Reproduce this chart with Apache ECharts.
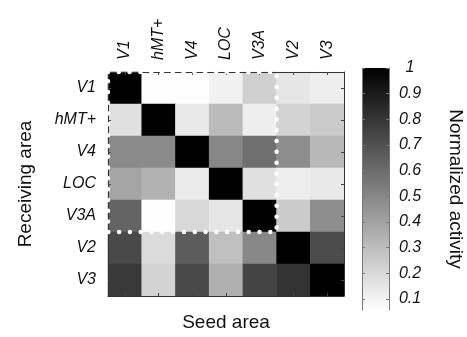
<!DOCTYPE html>
<html>
<head>
<meta charset="utf-8">
<script src="https://cdn.jsdelivr.net/npm/echarts@6/dist/echarts.min.js"></script>
<style>
  html, body { margin: 0; padding: 0; background: #fff; }
  #chart { width: 467px; height: 337px; }
</style>
</head>
<body>
<div id="chart"></div>
<script>
// ---- data ----
const seedAreas = ['V1', 'hMT+', 'V4', 'LOC', 'V3A', 'V2', 'V3'];
const receivingAreas = ['V1', 'hMT+', 'V4', 'LOC', 'V3A', 'V2', 'V3'];
// rows = receiving area, columns = seed area
const rowV1   = [1.00, 0.06, 0.06, 0.11, 0.23, 0.15, 0.12];
const rowHMT  = [0.17, 1.00, 0.14, 0.31, 0.12, 0.22, 0.25];
const rowV4   = [0.49, 0.49, 1.00, 0.50, 0.59, 0.48, 0.32];
const rowLOC  = [0.39, 0.34, 0.13, 1.00, 0.17, 0.12, 0.14];
const rowV3A  = [0.63, 0.06, 0.20, 0.15, 1.00, 0.25, 0.48];
const rowV2   = [0.73, 0.19, 0.66, 0.29, 0.50, 1.00, 0.72];
const rowV3   = [0.79, 0.22, 0.73, 0.35, 0.75, 0.81, 1.00];
const activityRows = [rowV1, rowHMT, rowV4, rowLOC, rowV3A, rowV2, rowV3];
const colorbarTicks = [0.1, 0.2, 0.3, 0.4, 0.5, 0.6, 0.7, 0.8, 0.9, 1];
const colorMin = 0.057;
const colorMax = 1;
// highlighted block: first 5 seed areas x first 5 receiving areas
const boxCols = 5;
const boxRows = 5;

// ---- build ----
const heatData = [];
activityRows.forEach((row, r) => row.forEach((v, c) => heatData.push([c, r, v])));
const cellCenters = seedAreas.map((_, i) => i + 0.5);
const boxPath = [[0, 0], [boxCols, 0], [boxCols, boxRows], [0, boxRows], [0, 0]];

const FONT = 'Liberation Sans, Arial, sans-serif';
const tickStyle = { color: '#444', width: 1 };

const chart = echarts.init(document.getElementById('chart'), null, { renderer: 'canvas' });
chart.setOption({
  animation: false,
  backgroundColor: '#fff',
  textStyle: { fontFamily: FONT, color: '#111' },
  grid: [
    { left: 108, top: 72, width: 236, height: 236 },
    { left: 362, top: 68, width: 27, height: 242 }
  ],
  visualMap: {
    show: false, seriesIndex: 0, min: colorMin, max: colorMax,
    inRange: { color: ['#ffffff', '#000000'] }
  },
  xAxis: [
    {
      type: 'category', gridIndex: 0, position: 'top', data: seedAreas, z: 4,
      axisLine: { show: true, lineStyle: { color: '#333', width: 1 } },
      axisTick: { show: true, inside: true, alignWithLabel: true, length: 3, lineStyle: tickStyle },
      axisLabel: { rotate: 90, margin: 12, fontSize: 16, fontStyle: 'italic', color: '#111', fontFamily: FONT },
      splitLine: { show: false }
    },
    {
      type: 'value', gridIndex: 0, position: 'bottom', min: 0, max: seedAreas.length, z: 4,
      axisLine: { show: true, onZero: false, lineStyle: { color: '#333', width: 1 } },
      axisTick: { show: true, inside: true, length: 3, lineStyle: tickStyle, customValues: cellCenters },
      axisLabel: { show: false },
      splitLine: { show: false },
      name: 'Seed area', nameLocation: 'middle', nameGap: 17,
      nameTextStyle: { fontSize: 19, color: '#111', fontFamily: FONT }
    },
    {
      type: 'category', gridIndex: 1, data: [''], show: false
    }
  ],
  yAxis: [
    {
      type: 'category', gridIndex: 0, inverse: true, data: receivingAreas, z: 4,
      axisLine: { show: true, lineStyle: { color: '#333', width: 1 } },
      axisTick: { show: true, inside: true, alignWithLabel: true, length: 3, lineStyle: tickStyle },
      axisLabel: { margin: 12, fontSize: 16, fontStyle: 'italic', color: '#111', fontFamily: FONT },
      splitLine: { show: false },
      name: 'Receiving area', nameLocation: 'middle', nameGap: 73, nameRotate: 90,
      nameTextStyle: { fontSize: 19, color: '#111', fontFamily: FONT }
    },
    {
      type: 'value', gridIndex: 0, position: 'right', min: 0, max: receivingAreas.length, inverse: true, z: 4,
      axisLine: { show: true, onZero: false, lineStyle: { color: '#333', width: 1 } },
      axisTick: { show: true, inside: true, length: 3, lineStyle: tickStyle, customValues: cellCenters },
      axisLabel: { show: false },
      splitLine: { show: false }
    },
    {
      type: 'value', gridIndex: 1, position: 'right', min: colorMin, max: colorMax, z: 4,
      axisLine: { show: true, lineStyle: { color: '#777', width: 1 } },
      axisTick: { show: true, inside: true, length: 3, lineStyle: { color: '#777' }, customValues: colorbarTicks },
      axisLabel: {
        customValues: colorbarTicks, formatter: v => String(v),
        margin: 21, align: 'center', fontSize: 16, fontStyle: 'italic', color: '#111', fontFamily: FONT
      },
      splitLine: { show: false },
      name: 'Normalized activity', nameLocation: 'middle', nameGap: 57, nameRotate: -90,
      nameTextStyle: { fontSize: 19, color: '#111', fontFamily: FONT }
    },
    {
      type: 'value', gridIndex: 1, position: 'left', min: colorMin, max: colorMax, z: 4,
      axisLine: { show: true, lineStyle: { color: '#777', width: 1 } },
      axisTick: { show: true, inside: true, length: 3, lineStyle: { color: '#777' }, customValues: colorbarTicks },
      axisLabel: { show: false },
      splitLine: { show: false }
    }
  ],
  series: [
    {
      type: 'heatmap', xAxisIndex: 0, yAxisIndex: 0, data: heatData, z: 1,
      itemStyle: { borderWidth: 0 },
      emphasis: { disabled: true }
    },
    {
      type: 'line', xAxisIndex: 1, yAxisIndex: 1, data: boxPath, z: 6,
      symbol: 'none', clip: false, silent: true,
      lineStyle: { color: '#ffffff', width: 4.5, type: [0, 10.8], cap: 'round', join: 'round' }
    },
    {
      type: 'bar', xAxisIndex: 2, yAxisIndex: 2, data: [colorMax], barWidth: '100%', z: 1,
      silent: true,
      itemStyle: {
        color: new echarts.graphic.LinearGradient(0, 0, 0, 1, [
          { offset: 0, color: '#000000' },
          { offset: 1, color: '#ffffff' }
        ])
      }
    }
  ]
});
</script>
</body>
</html>
